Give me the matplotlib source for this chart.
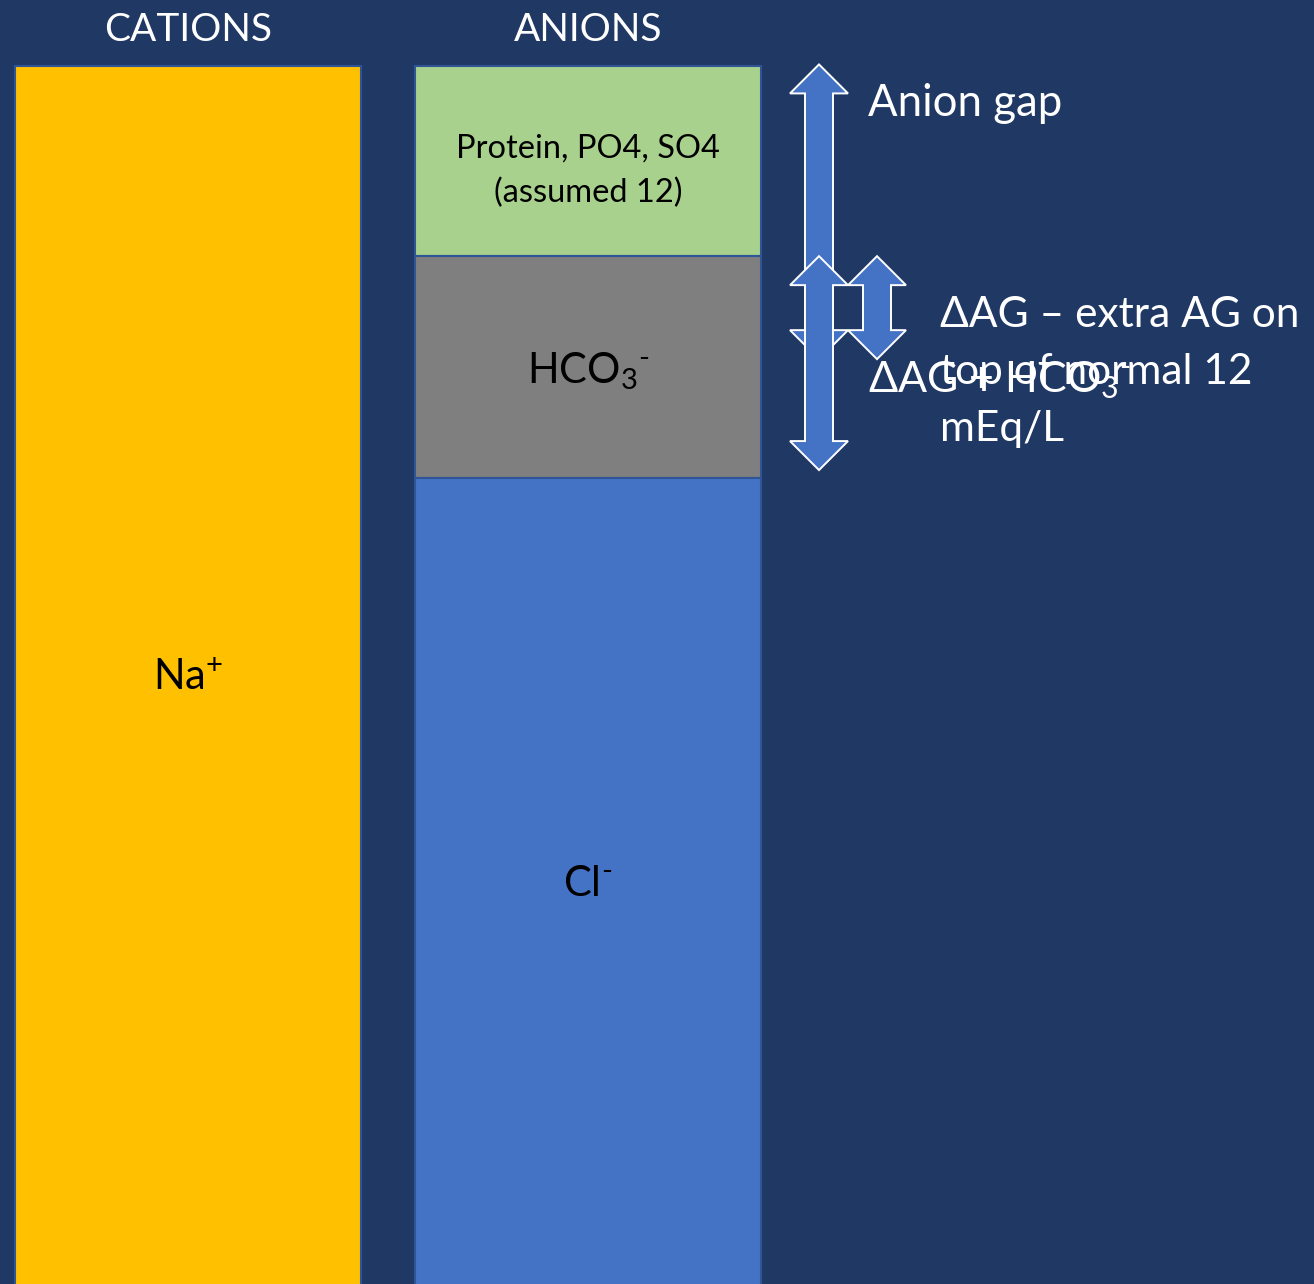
import matplotlib
matplotlib.use("Agg")
import matplotlib.pyplot as plt
from matplotlib.patches import Polygon

plt.rcParams["font.family"] = ["Lato", "DejaVu Sans"]
plt.rcParams["mathtext.fontset"] = "custom"
plt.rcParams["mathtext.rm"] = "Lato"
plt.rcParams["mathtext.it"] = "Lato:italic"
plt.rcParams["mathtext.bf"] = "Lato:bold"

# ---- data (mEq/L) ----
columns = ["CATIONS", "ANIONS"]
cation_labels = [r"Na$^{+}$"]
cation_values = [140]
anion_labels = ["Protein, PO4, SO4\n(assumed 12)", r"HCO$_3{}^{\text{-}}$", r"Cl$^{\text{-}}$"]
anion_values = [12, 14, 114]          # stacked from the top down
anion_colors = ["#A9D18E", "#7F7F7F", "#4472C4"]
cation_colors = ["#FFC000"]

delta_ag = 6.5
# double-headed arrows: (label, top value, bottom value)
arrow_labels = ["Anion gap", r"$\Delta$AG + HCO$_3{}^{\text{-}}$",
                "ΔAG – extra AG on\ntop of normal 12\nmEq/L"]
arrow_tops = [140.1, 128.0, 128.0]
arrow_bottoms = [140 - 12 - delta_ag, 114.5, 140 - 12 - delta_ag]

BG = "#203864"
EDGE = "#2F5597"

W, H = 1314, 1284
fig = plt.figure(figsize=(W / 100, H / 100), dpi=100, facecolor=BG)
ax = fig.add_axes([0, 0, 1, 1])
ax.set_facecolor(BG)

# axis scales: 400 px between the two columns, ~15.85 px per mEq/L
px_x = 1 / 400.0
px_y = 26 / 412.0
x_left = -188 * px_x
y_top = 140 + 66 * px_y
ax.set_xlim(x_left, x_left + W * px_x)
ax.set_ylim(y_top - H * px_y, y_top)
ax.axis("off")
y_floor = ax.get_ylim()[0]

bar_w = 346 * px_x
xpos = [0, 1]

# cation column
top = cation_values[0]
ax.bar(xpos[0], cation_values[0], bottom=0, width=bar_w, color=cation_colors[0],
       edgecolor=EDGE, linewidth=1.5, zorder=2)
ax.text(xpos[0], (top + max(0, y_floor)) / 2, cation_labels[0], ha="center",
        va="center_baseline", fontsize=30, color="black", zorder=5)

# anion column, stacked top-down
top = sum(anion_values)
sizes = [23.5, 30, 30]
for lab, val, col, fs in zip(anion_labels, anion_values, anion_colors, sizes):
    bottom = top - val
    ax.bar(xpos[1], val, bottom=bottom, width=bar_w, color=col,
           edgecolor=EDGE, linewidth=1.5, zorder=2)
    mid = (top + max(bottom, y_floor)) / 2
    ax.text(xpos[1], mid, lab, ha="center", va="center_baseline", fontsize=fs,
            color="black", linespacing=1.55, zorder=5)
    top = bottom

# column headers
for x, name in zip(xpos, columns):
    ax.text(x, y_top - 30 * px_y, name, ha="center", va="center",
            fontsize=28, color="white")


def double_arrow(xc, t, b, z):
    hs, hh, hl = 14 * px_x, 29 * px_x, 29 * px_y
    verts = [(xc, t), (xc + hh, t - hl), (xc + hs, t - hl), (xc + hs, b + hl),
             (xc + hh, b + hl), (xc, b), (xc - hh, b + hl), (xc - hs, b + hl),
             (xc - hs, t - hl), (xc - hh, t - hl)]
    ax.add_patch(Polygon(verts, closed=True, facecolor="#4472C4",
                         edgecolor="white", linewidth=1.4, zorder=z))


arrow_x = [(819 - 188) * px_x, (819 - 188) * px_x, (877 - 188) * px_x]
arrow_z = [3, 5, 4]
for xc, t, b, z in zip(arrow_x, arrow_tops, arrow_bottoms, arrow_z):
    double_arrow(xc, t, b, z)

# arrow captions
ax.text((868 - 188) * px_x, y_top - 104 * px_y, arrow_labels[0], ha="left",
        va="center", fontsize=31.5, color="white", zorder=6)
ax.text((868 - 188) * px_x, y_top - 380 * px_y, arrow_labels[1], ha="left",
        va="center", fontsize=31, color="white", zorder=6)
ax.text((940 - 188) * px_x, y_top - 296 * px_y, arrow_labels[2], ha="left",
        va="top", fontsize=30.5, color="white", linespacing=1.62, zorder=6)

fig.savefig("out.png", dpi=100, facecolor=BG)
